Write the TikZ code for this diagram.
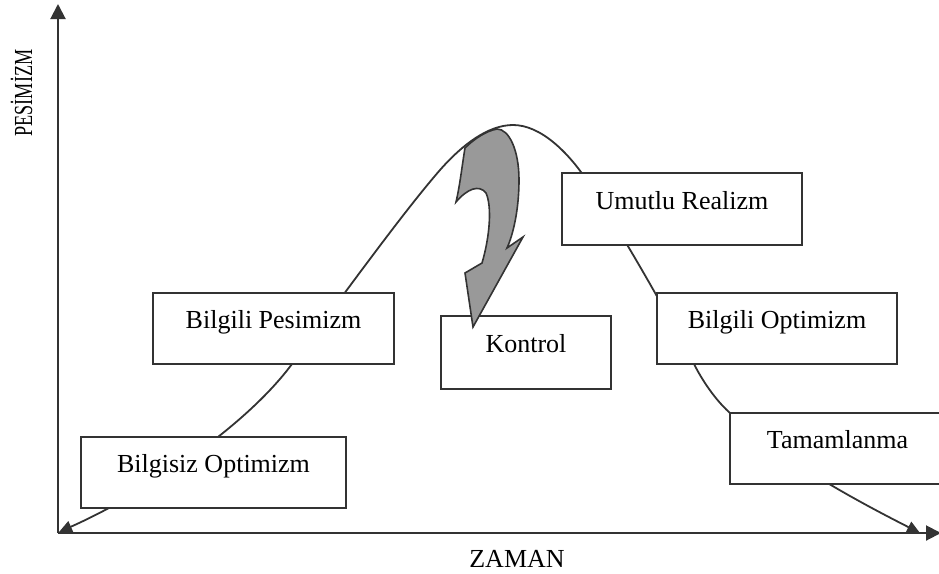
\documentclass[tikz,border=0pt]{standalone}
\usepackage{fontspec}
\setmainfont{Liberation Serif}
\usetikzlibrary{arrows.meta}
\definecolor{ink}{HTML}{333333}
\definecolor{swoopfill}{HTML}{999999}
\begin{document}
\begin{tikzpicture}[x=1pt,y=-1pt,
  stage/.style={draw=ink, line width=2.2pt, fill=white, inner sep=0pt,
    text height=10pt, text depth=10pt, font=\fontsize{26}{30}\selectfont},
  axisline/.style={draw=ink, line width=2pt, -{Triangle[length=15pt,width=15pt]}},
  trend/.style={draw=ink, line width=1.8pt,
    {Triangle[length=13pt,width=12pt]}-{Triangle[length=13pt,width=12pt]}},
  label/.style={font=\fontsize{26}{30}\selectfont}
]
\clip (0,0) rectangle (939,573);

% axes
\coordinate (origin) at (58,533);
\coordinate (ytop) at (58,4);
\coordinate (xend) at (941,533);
\draw[axisline] (origin) -- (ytop);
\draw[axisline] (origin) -- (xend);

% axis titles
\node[label, anchor=base] (xlabel) at (517,567) {ZAMAN};
\node[label, anchor=base, rotate=90] (ylabel) at (32,93) {\scalebox{0.7}[1]{PESİMİZM}};

% the mood curve over time
\coordinate (c0) at (59,532);
\coordinate (c1) at (292,364);
\coordinate (c2) at (440,170);
\coordinate (peak) at (513,125);
\coordinate (c3) at (590,185);
\coordinate (c4) at (694,364);
\coordinate (c5) at (735,417);
\coordinate (c6) at (920,533);
\draw[trend] (c0)
  .. controls (140,496) and (243,430) .. (c1)
  .. controls (337,304) and (400,216) .. (c2)
  .. controls (462,145) and (488,125) .. (peak)
  .. controls (540,125) and (568,151) .. (c3)
  .. controls (625,239) and (660,300) .. (c4)
  .. controls (704,384) and (720,406) .. (c5)
  .. controls (785,463) and (865,505) .. (c6);

% stages along the curve
\node[stage, minimum width=265pt, minimum height=71pt] (bopt) at (213.5,472.5) {Bilgisiz Optimizm};
\node[stage, minimum width=241pt, minimum height=71pt] (bpes) at (273.5,328.5) {Bilgili Pesimizm};
\node[stage, minimum width=240pt, minimum height=72pt] (ureal) at (682,209) {Umutlu Realizm};
\node[stage, minimum width=240pt, minimum height=71pt] (iopt) at (777,328.5) {Bilgili Optimizm};
\node[stage, minimum width=170pt, minimum height=73pt] (kont) at (526,352.5) {Kontrol};
\node[stage, minimum width=215pt, minimum height=71pt] (tam) at (837.5,448.5) {Tamamlanma};

% curved arrow falling from the peak onto Kontrol
\draw[draw=ink, line width=1.6pt, fill=swoopfill, line join=miter]
  (465,148) .. controls (474,139) and (486,131) .. (497,129)
  .. controls (509,129) and (519,150) .. (519,180)
  .. controls (519,210) and (513,235) .. (507,248)
  -- (523,237) -- (473,327) -- (465,273) -- (482,263)
  .. controls (490,236) and (492,206) .. (486,193)
  .. controls (479,184) and (467,189) .. (456,202)
  .. controls (460,185) and (462,166) .. (465,148) -- cycle;
\end{tikzpicture}
\end{document}
